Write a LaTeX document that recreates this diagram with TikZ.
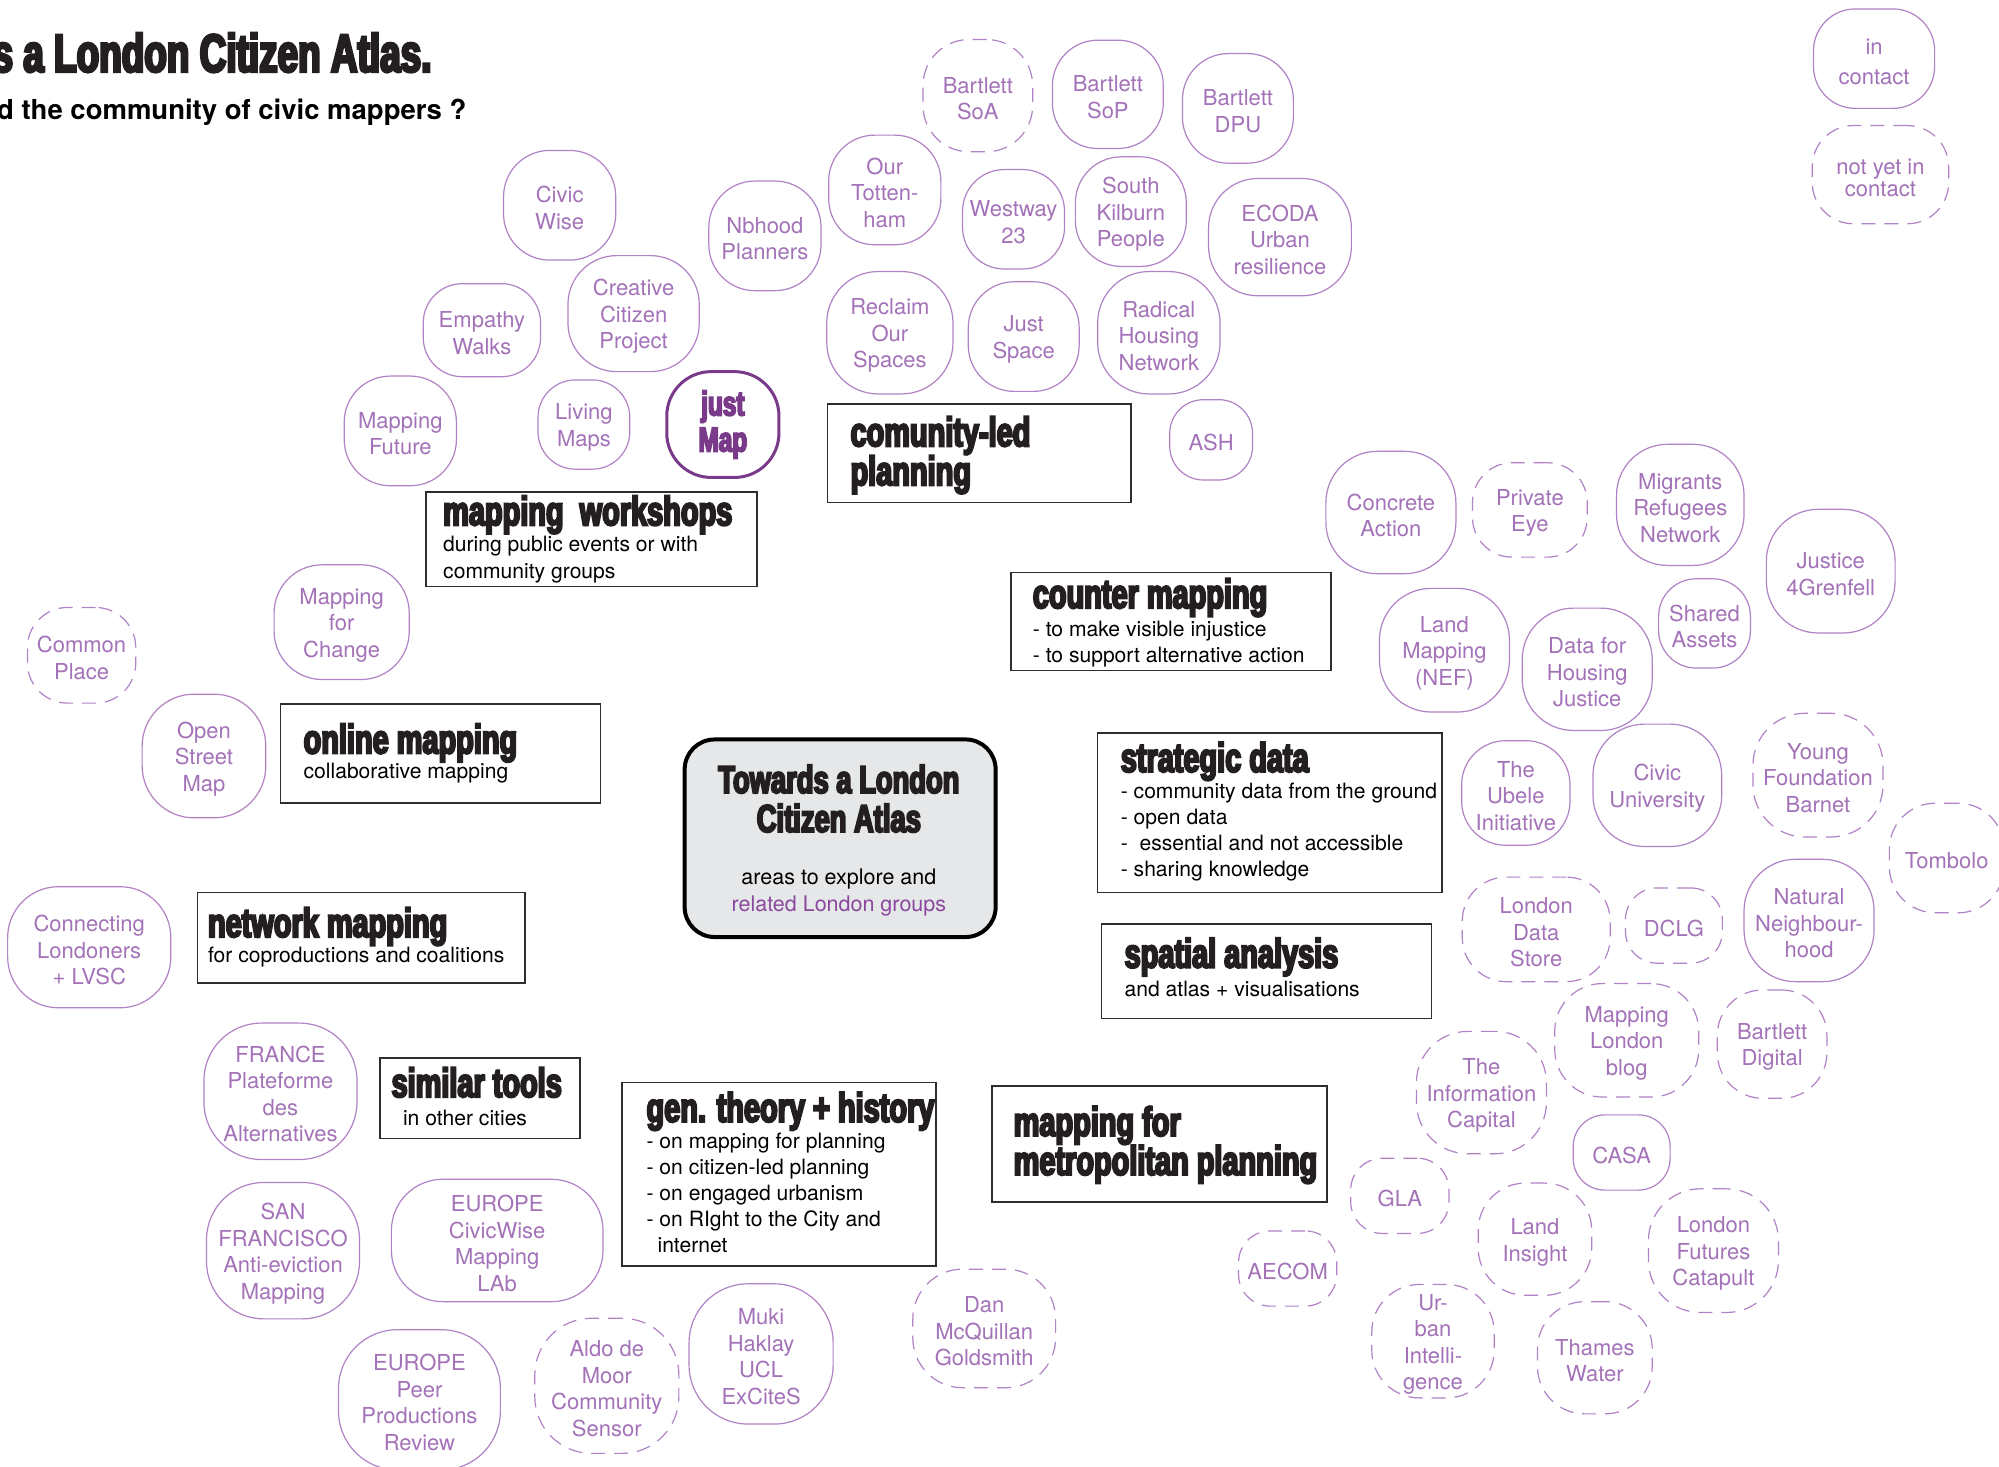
\documentclass[tikz,border=0pt]{standalone}
\usepackage{fontspec}
\setmainfont{TeX Gyre Heros}
\newfontfamily\headfont{Liberation Sans Bold}[FakeStretch=0.705,FakeBold=5]
\newfontfamily\titlefont{Liberation Sans Bold}[FakeStretch=0.69,FakeBold=5]
\definecolor{grptext}{RGB}{163,114,184}
\definecolor{grpline}{RGB}{176,130,198}
\definecolor{justpurple}{RGB}{122,58,138}
\definecolor{relpurple}{RGB}{138,72,158}
\definecolor{boxline}{RGB}{45,45,45}
\definecolor{headblack}{RGB}{35,31,32}
\definecolor{centerfill}{RGB}{230,231,232}
\tikzset{
  grpsolid/.style={draw=grpline, line width=1.2pt, text=grptext, align=center, inner sep=0pt,
    font=\fontsize{22}{26.5}\selectfont},
  grpdash/.style={grpsolid, dash pattern=on 14pt off 9pt},
  justmapbox/.style={draw=justpurple, line width=3pt, text=justpurple, align=center, inner sep=0pt,
    font=\headfont\fontsize{34.5}{36}\selectfont},
  blackbox/.style={draw=boxline, line width=1.6pt, inner sep=0pt},
  headtxt/.style={anchor=base west, inner sep=0pt, text=headblack, align=left,
    font=\headfont\fontsize{41}{39}\selectfont},
  bodytxt/.style={anchor=base west, inner sep=0pt, align=left, text=black,
    font=\fontsize{21.1}{26.2}\selectfont},
}
\newcommand\grp[7]{%
  \pgfmathsetmacro\grpW{#5*1.2749}%
  \pgfmathsetmacro\grpH{#6*1.2749}%
  \pgfmathsetmacro\grpR{0.42*min(#5,#6)*1.2749}%
  \node[#1, minimum width=\grpW pt, minimum height=\grpH pt, rounded corners=\grpR pt] (#2) at (#3,#4) {\rule{0pt}{22pt}#7};}
\newcommand\mkbox[5]{%
  \pgfmathsetmacro\bxW{(#4-#2)*1.2749}%
  \pgfmathsetmacro\bxH{(#5-#3)*1.2749}%
  \node[blackbox, minimum width=\bxW pt, minimum height=\bxH pt] (#1) at ({(#2+#4)/2},{(#3+#5)/2}) {};}
\begin{document}
\begin{tikzpicture}[x=1.2749pt, y=-1.2749pt]
\useasboundingbox (0,0) rectangle (1568,1150.7);
\clip (0,0) rectangle (1568,1150.7);
\fill[white] (0,0) rectangle (1568,1150.7);

% title
\node[anchor=base west, inner sep=0pt, text=headblack, font=\titlefont\fontsize{53.5}{53}\selectfont] (title) at (-6,56.3) {s a London Citizen Atlas.};
\node[anchor=base west, inner sep=0pt, text=black, font=\bfseries\fontsize{27.5}{30}\selectfont] (subtitle) at (-2.4,94.1) {d the community of civic mappers ?};

% legend
\grp{grpsolid}{incontact}{1470}{46}{95}{78}{in\\[3pt]contact}
\grp{grpdash}{notyet}{1475}{137}{107}{77}{not yet in\\[-5pt]contact}

% top cluster
\grp{grpdash}{soa}{767}{75}{86}{88}{Bartlett\\SoA}
\grp{grpsolid}{sop}{869}{74}{87}{85}{Bartlett\\SoP}
\grp{grpsolid}{dpu}{971}{85}{87}{86}{Bartlett\\DPU}
\grp{grpsolid}{tott}{694}{149}{88}{86}{Our\\Totten-\\ham}
\grp{grpsolid}{westway}{795}{172}{80}{78}{Westway\\23}
\grp{grpsolid}{skp}{887}{166}{87}{86}{South\\Kilburn\\People}
\grp{grpsolid}{ecoda}{1004}{186}{112}{92}{ECODA\\Urban\\resilience}
\grp{grpsolid}{civicwise}{439}{161}{88}{86}{Civic\\Wise}
\grp{grpsolid}{nbhood}{600}{185}{88}{86}{Nbhood\\Planners}
\grp{grpsolid}{creative}{497}{246}{103}{91}{Creative\\Citizen\\Project}
\grp{grpsolid}{empathy}{378}{259}{92}{73}{Empathy\\Walks}
\grp{grpsolid}{mfuture}{314}{338}{88}{86}{Mapping\\Future}
\grp{grpsolid}{living}{458}{333}{72}{70}{Living\\Maps}
\grp{justmapbox}{justmap}{567}{333}{88}{83}{just\\Map}
\grp{grpsolid}{reclaim}{698}{261}{99}{96}{Reclaim\\Our\\Spaces}
\grp{grpsolid}{justspace}{803}{264}{87}{86}{Just\\Space}
\grp{grpsolid}{radical}{909}{261}{96}{96}{Radical\\Housing\\Network}
\grp{grpsolid}{ash}{950}{345}{65}{63}{ASH}

% right cluster
\grp{grpsolid}{concrete}{1091}{402}{102}{96}{Concrete\\Action}
\grp{grpdash}{private}{1200}{400}{90}{74}{Private\\Eye}
\grp{grpsolid}{migrants}{1318}{396}{100}{95}{Migrants\\Refugees\\Network}
\grp{grpsolid}{j4g}{1436}{448}{101}{97}{Justice\\4Grenfell}
\grp{grpsolid}{shared}{1337}{489}{72}{70}{Shared\\Assets}
\grp{grpsolid}{landmap}{1133}{510}{102}{97}{Land\\Mapping\\(NEF)}
\grp{grpsolid}{dhj}{1245}{525}{102}{96}{Data for\\Housing\\Justice}
\grp{grpsolid}{ubele}{1189}{622}{85}{82}{The\\Ubele\\Initiative}
\grp{grpsolid}{civicuni}{1300}{616}{101}{96}{Civic\\University}
\grp{grpdash}{young}{1426}{608}{102}{97}{Young\\Foundation\\Barnet}
\grp{grpdash}{tombolo}{1527}{673}{90}{86}{Tombolo}
\grp{grpdash}{lds}{1205}{729}{116}{82}{London\\Data\\Store}
\grp{grpdash}{dclg}{1313}{726}{76}{59}{DCLG}
\grp{grpsolid}{natural}{1419}{722}{102}{96}{Natural\\Neighbour-\\hood}
\grp{grpdash}{mlblog}{1276}{816}{113}{89}{Mapping\\London\\blog}
\grp{grpdash}{bdigital}{1390}{819}{86}{85}{Bartlett\\Digital}
\grp{grpdash}{infocap}{1162}{857}{102}{96}{The\\Information\\Capital}
\grp{grpsolid}{casa}{1272}{904}{76}{59}{CASA}
\grp{grpdash}{gla}{1098}{938}{77}{59}{GLA}
\grp{grpdash}{aecom}{1010}{995}{77}{59}{AECOM}
\grp{grpdash}{landinsight}{1204}{972}{89}{88}{Land\\Insight}
\grp{grpdash}{lfc}{1344}{981}{102}{97}{London\\Futures\\Catapult}
\grp{grpdash}{urbanint}{1124}{1052}{96}{89}{Ur-\\ban\\Intelli-\\gence}
\grp{grpdash}{thames}{1251}{1065}{90}{88}{Thames\\Water}

% left cluster
\grp{grpsolid}{m4c}{268}{488}{106}{90}{Mapping\\for\\Change}
\grp{grpdash}{common}{64}{514}{85}{75}{Common\\Place}
\grp{grpsolid}{osm}{160}{593}{97}{97}{Open\\Street\\Map}
\grp{grpsolid}{connecting}{70}{743}{128}{95}{Connecting\\Londoners\\+ LVSC}
\grp{grpsolid}{france}{220}{856}{120}{107}{FRANCE\\Plateforme\\des\\Alternatives}
\grp{grpsolid}{sanfran}{222}{981}{120}{107}{SAN\\FRANCISCO\\Anti-eviction\\Mapping}
\grp{grpsolid}{eucw}{390}{973}{166}{96}{EUROPE\\CivicWise\\Mapping\\LAb}
\grp{grpsolid}{eupeer}{329}{1098}{127}{110}{EUROPE\\Peer\\Productions\\Review}
\grp{grpdash}{aldo}{476}{1087}{113}{106}{Aldo de\\Moor\\Community\\Sensor}
\grp{grpsolid}{muki}{597}{1062}{113}{110}{Muki\\Haklay\\UCL\\ExCiteS}
\grp{grpdash}{dan}{772}{1042}{112}{93}{Dan\\McQuillan\\Goldsmith}

% black boxes (multi-line text nodes are anchored at the baseline of their last line)
\mkbox{clbox}{649}{317}{887}{394}
\node[headtxt] (clh) at (667,380.6) {comunity-led\\planning};

\mkbox{mwbox}{334}{386}{594}{460}
\node[headtxt] (mwh) at (347.5,412) {mapping\ \ workshops};
\node[bodytxt] (mwb) at (347.5,453.5) {during public events or with\\community groups};

\mkbox{cmbox}{793}{449}{1044}{526}
\node[headtxt] (cmh) at (810,477) {counter mapping};
\node[bodytxt] (cmb) at (810,519.5) {- to make visible injustice\\- to support alternative action};

\mkbox{ombox}{220}{552}{471}{630}
\node[headtxt] (omh) at (238,591) {online mapping};
\node[bodytxt] (omb) at (238,611) {collaborative mapping};

\mkbox{sdbox}{861}{575}{1131}{700}
\node[headtxt] (sdh) at (879,605.5) {strategic data};
\node[bodytxt] (sdb) at (879,687.7) {- community data from the ground\\- open data\\-\ \ essential and not accessible\\- sharing knowledge};

\mkbox{sabox}{864}{725}{1123}{799}
\node[headtxt] (sah) at (882,759) {spatial analysis};
\node[bodytxt] (sab) at (882,782) {and atlas + visualisations};

\mkbox{nmbox}{155}{700}{412}{771}
\node[headtxt] (nmh) at (163,735) {network mapping};
\node[bodytxt] (nmb) at (163,755) {for coproductions and coalitions};

\mkbox{stbox}{298}{830}{455}{893}
\node[headtxt] (sth) at (307,860.5) {similar tools};
\node[bodytxt] (stb) at (316,882.5) {in other cities};

\mkbox{gtbox}{488}{849}{734}{993}
\node[headtxt] (gth) at (507,880) {gen. theory + history};
\node[bodytxt] (gtb) at (507,982.8) {- on mapping for planning\\- on citizen-led planning\\- on engaged urbanism\\- on RIght to the City and\\\hspace*{11pt}internet};

\mkbox{mpbox}{778}{852}{1041}{943}
\node[headtxt] (mph) at (795,921.6) {mapping for\\metropolitan planning};

% central box
\node[draw=black, line width=4pt, fill=centerfill, rounded corners=30pt, minimum width=311pt, minimum height=197.6pt, inner sep=0pt] (center) at (659,657.5) {};
\node[anchor=base, inner sep=0pt, align=center, text=headblack, font=\headfont\fontsize{38.8}{39}\selectfont] (ctitle) at (658,652.6) {Towards a London\\Citizen Atlas};
\node[anchor=base, inner sep=0pt, align=center, text=black, font=\fontsize{21.5}{26.3}\selectfont] (cbody) at (658,714.6) {areas to explore and\\\textcolor{relpurple}{related London groups}};
\end{tikzpicture}
\end{document}
